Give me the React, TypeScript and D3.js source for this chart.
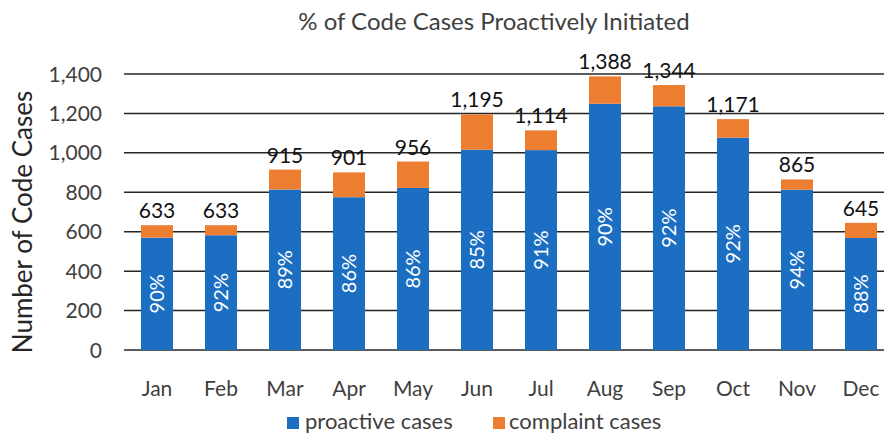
import React from "react";
import * as d3 from "d3";

const months = ["Jan", "Feb", "Mar", "Apr", "May", "Jun", "Jul", "Aug", "Sep", "Oct", "Nov", "Dec"];
const totals = [633, 633, 915, 901, 956, 1195, 1114, 1388, 1344, 1171, 865, 645];
const proactive = [570, 582, 814, 775, 822, 1016, 1014, 1249, 1236, 1077, 813, 568];
const complaint = [63, 51, 101, 126, 134, 179, 100, 139, 108, 94, 52, 77];
const percents = ["90%", "92%", "89%", "86%", "86%", "85%", "91%", "90%", "92%", "92%", "94%", "88%"];
const yTicks = [0, 200, 400, 600, 800, 1000, 1200, 1400];

const BLUE = "#1b6ec2";
const ORANGE = "#ed7d31";
const FONT = "Lato, 'Open Sans', sans-serif";

export default function App() {
  const W = 884, H = 435;
  const x = d3.scaleBand<string>().domain(months).range([125, 893]).paddingInner(0.5).paddingOuter(0.25);
  const y = d3.scaleLinear().domain([0, 1400]).range([350, 74]);
  const fmt = d3.format(",");
  return (
    <svg width={W} height={H} style={{ position: "absolute", left: 0, top: 0, background: "#fff" }} fontFamily={FONT}>
      <text x={494} y={30} textAnchor="middle" fontSize={24} fill="#404040">% of Code Cases Proactively Initiated</text>
      {yTicks.map((t) => (
        <g key={t}>
          <line x1={124} x2={884} y1={y(t)} y2={y(t)} stroke="#262626" strokeWidth={1.5} />
          <text x={102} y={y(t)} dy="0.36em" textAnchor="end" fontSize={21} fill="#404040">{fmt(t)}</text>
        </g>
      ))}
      <text transform={`translate(32,222) rotate(-90)`} textAnchor="middle" fontSize={26} fill="#262626">Number of Code Cases</text>
      {months.map((m, i) => {
        const bx = x(m)!;
        const bw = x.bandwidth();
        const cx = bx + bw / 2;
        const pm = (y(0) + y(proactive[i])) / 2;
        return (
          <g key={m}>
            <rect x={bx} width={bw} y={y(proactive[i])} height={y(0) - y(proactive[i])} fill={BLUE} />
            <rect x={bx} width={bw} y={y(proactive[i] + complaint[i])} height={y(proactive[i]) - y(proactive[i] + complaint[i])} fill={ORANGE} />
            <text x={cx} y={y(totals[i]) - 7} textAnchor="middle" fontSize={21} fill="#111">{fmt(totals[i])}</text>
            <text transform={`translate(${cx},${pm}) rotate(-90)`} textAnchor="middle" dy="0.36em" fontSize={20} fill="#fff">{percents[i]}</text>
            <text x={cx} y={396} textAnchor="middle" fontSize={21} fill="#404040">{m}</text>
          </g>
        );
      })}
      <rect x={287} y={417} width={12} height={12} fill={BLUE} />
      <text x={305} y={429} fontSize={22} fill="#404040">proactive cases</text>
      <rect x={493} y={417} width={12} height={12} fill={ORANGE} />
      <text x={509} y={429} fontSize={22} fill="#404040">complaint cases</text>
    </svg>
  );
}
